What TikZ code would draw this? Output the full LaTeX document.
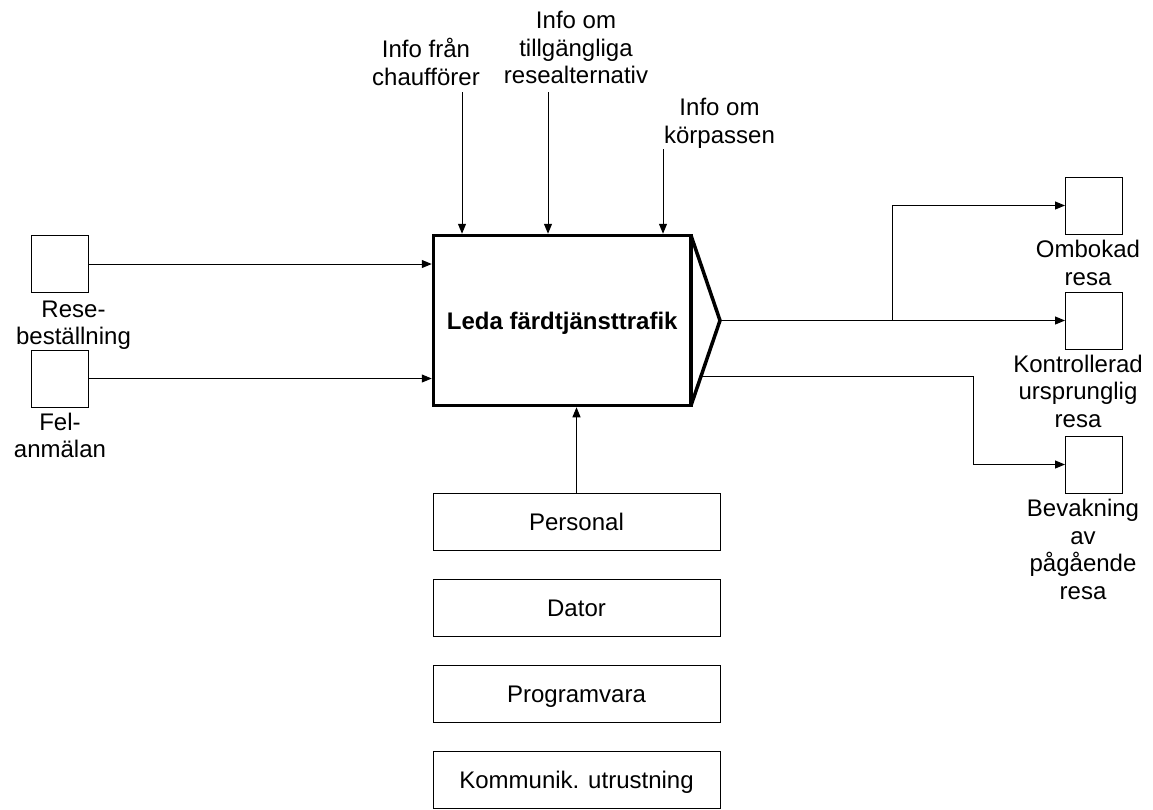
\documentclass[tikz,border=0pt]{standalone}
\usepackage{fontspec}
\setmainfont{Liberation Sans}
\usetikzlibrary{arrows.meta,calc}
\begin{document}
\begin{tikzpicture}[x=1pt,y=-1pt,
  txt/.style={font=\fontsize{24}{27.6}\selectfont},
  lbl/.style={txt,align=center,inner sep=0pt,anchor=north},
  sq/.style={draw,line width=1pt,minimum size=57pt,inner sep=0pt,outer sep=0pt},
  res/.style={draw,line width=1pt,minimum width=287pt,minimum height=57pt,
    inner sep=0pt,outer sep=0pt,txt,text height=17pt,text depth=0pt},
  proc/.style={draw,line width=3.5pt,minimum width=257.5pt,minimum height=170pt,
    inner sep=0pt,outer sep=0pt,font=\fontsize{24}{27.6}\selectfont\bfseries,
    text height=17pt,text depth=0pt},
  flow/.style={line width=1pt,-{Triangle[length=10pt,width=8pt]}},
  into/.style={flow,shorten >=1.75pt}]
\useasboundingbox (0,0) rectangle (1153,809);

% activity box with its output chevron
\node[proc] (main) at (562.25,320.5) {Leda färdtjänsttrafik};
\coordinate (tip) at (720,320.5);
\draw[line width=3.5pt] (main.north east) -- (tip) -- (main.south east);

% inputs
\node[sq] (i1) at (59.5,264) {};
\node[sq] (i2) at (59.5,378.5) {};
\node[lbl] (li1) at (73.5,297.5) {\strut Rese-\\beställning};
\node[lbl] (li2) at (60,410.5) {\strut Fel-\\anmälan};
\draw[into] (i1.east) -- (i1.east -| main.west);
\draw[into] (i2.east) -- (i2.east -| main.west);

% controls
\node[lbl] (lt1) at (426,38) {\strut Info från\\chaufförer};
\node[lbl] (lt2) at (576,9) {\strut Info om\\tillgängliga\\resealternativ};
\node[lbl] (lt3) at (719.5,96) {\strut Info om\\körpassen};
\coordinate (t1) at (462,92);
\coordinate (t2) at (548,92);
\coordinate (t3) at (663,149);
\draw[into] (t1) -- (t1 |- main.north);
\draw[into] (t2) -- (t2 |- main.north);
\draw[into] (t3) -- (t3 |- main.north);

% outputs
\node[sq] (o1) at (1093.5,205.5) {};
\node[sq] (o2) at (1093.5,320.5) {};
\node[sq] (o3) at (1093.5,464.5) {};
\node[lbl] (lo1) at (1088,238) {\strut Ombokad\\resa};
\node[lbl] (lo2) at (1078,352.7) {\strut Kontrollerad\\ursprunglig\\resa};
\node[lbl] (lo3) at (1083,497) {\strut Bevakning\\av\\pågående\\resa};
\coordinate (br) at (892,320.5);
\coordinate (sl) at ($(main.south east)!0.347!(tip)$);
\coordinate (bend) at (973,376);
\draw[flow] (tip) -- (o2.west);
\draw[flow] (br) |- (o1.west);
\draw[flow] (sl) -- (sl -| bend) |- (o3.west);

% mechanisms
\node[res] (r1) at (576.5,522) {Personal};
\node[res] (r2) at (576.5,608) {Dator};
\node[res] (r3) at (576.5,694) {Programvara};
\node[res] (r4) at (576.5,780) {Kommunik. utrustning};
\draw[into] (r1.north) -- (r1.north |- main.south);
\end{tikzpicture}
\end{document}
